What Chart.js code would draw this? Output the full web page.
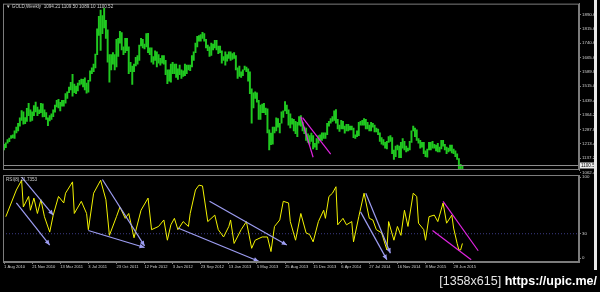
<!DOCTYPE html>
<html>
<head>
<meta charset="utf-8">
<script src="https://cdn.jsdelivr.net/npm/chart.js@4.4.1/dist/chart.umd.min.js"></script>
<style>
  body { margin: 0; background: #000; width: 600px; height: 292px; overflow: hidden; position: relative; }
  #priceChart { position: absolute; left: 0; top: 0; }
  #rsiChart { position: absolute; left: 0; top: 170px; }
  #edge { position: absolute; left: 594px; top: 0; width: 3px; height: 270px; background: #e8e8e8; }
  #mark { position: absolute; right: 3px; top: 274px; color: #fff; font: 12.5px "Liberation Sans", sans-serif; white-space: nowrap; }
  #mark span { color: #e4e4e4; }
  #mark b { font-weight: bold; }
</style>
</head>
<body>
<canvas id="priceChart" width="600" height="176"></canvas>
<canvas id="rsiChart" width="600" height="100"></canvas>
<div id="edge"></div>
<div id="mark"><span>[1358x615]</span> <b>https://upic.me/</b></div>
<script>
// weekly bars, week 0 = 1 Aug 2010
const weekLows = [
  1180,1192,1215,1223,1240,1243,1240,1270,1280,1305,1335,1315,1318,1330,1360,1330,1335,1360,1380,1360,1370,1375,
  1353,1355,1340,1308,1332,1340,1355,1378,1405,1400,1385,1410,1410,1425,1450,1480,1495,1462,1480,1475,1490,1520,
  1525,1510,1495,1478,1483,1540,1580,1590,1610,1680,1780,1702,1790,1820,1765,1640,1535,1600,1630,1600,1615,1670,
  1740,1705,1680,1690,1700,1580,1590,1523,
  1590,1620,1630,1650,1725,1715,1710,1720,1690,1680,1640,1630,1650,1615,1635,1625,1635,1630,1575,1527,1540,1535,
  1580,1580,1560,1550,1575,1555,1565,1570,1580,1600,1595,1615,1650,1690,1720,1750,1750,1765,1750,1715,1700,1670,
  1675,1705,1715,1705,1685,1690,1635,1650,1625,
  1645,1660,1650,1655,1660,1600,1555,1565,1560,1570,1600,1590,1540,1475,1320,1400,1450,1430,1340,1340,1375,1375,
  1365,1270,1180,1208,1210,1270,1280,1300,1270,1320,1350,1385,1370,1310,1295,1315,1280,1265,1250,1310,1305,1280,
  1265,1230,1220,1210,1225,1185,1195,1182,
  1215,1230,1230,1240,1240,1260,1305,1320,1330,1335,1320,1290,1277,1290,1290,1268,1280,1280,1285,1285,1245,1240,
  1250,1255,1310,1310,1310,1290,1290,1280,1280,1300,1275,1275,1260,1225,1210,1205,1190,1185,1220,1225,1160,1130,
  1145,1180,1140,1140,1190,1180,1170,1175,
  1180,1220,1280,1250,1230,1215,1190,1195,1160,1145,1142,1180,1180,1190,1190,1175,1170,1170,1185,1200,1180,1160,
  1170,1175,1165,1160,1145,1130,1077,1077,1080
];
const weekHighs = [
  1210,1218,1235,1242,1255,1260,1280,1300,1320,1348,1387,1380,1350,1398,1424,1390,1380,1413,1431,1405,1390,1424,
  1422,1390,1376,1348,1360,1370,1390,1415,1440,1445,1430,1440,1440,1475,1485,1510,1535,1577,1525,1515,1530,1545,
  1552,1550,1558,1530,1545,1595,1610,1630,1682,1815,1880,1913,1885,1923,1860,1810,1680,1680,1690,1680,1760,1765,
  1802,1795,1720,1765,1765,1720,1640,1620,
  1630,1665,1675,1730,1765,1760,1735,1790,1792,1715,1715,1670,1700,1695,1680,1660,1675,1675,1650,1600,1600,1630,
  1640,1630,1630,1605,1625,1600,1595,1630,1625,1625,1625,1675,1695,1740,1775,1780,1785,1796,1790,1760,1730,1720,
  1740,1735,1755,1755,1725,1725,1700,1670,1695,
  1680,1695,1695,1685,1690,1675,1610,1620,1590,1600,1620,1615,1605,1590,1500,1480,1485,1480,1440,1415,1420,1425,
  1400,1395,1285,1268,1300,1300,1348,1345,1320,1380,1385,1433,1415,1390,1370,1345,1340,1330,1325,1355,1360,1325,
  1300,1295,1265,1255,1268,1255,1215,1240,
  1255,1260,1270,1270,1270,1320,1330,1345,1355,1385,1392,1340,1310,1335,1330,1305,1315,1315,1305,1305,1295,1260,
  1280,1325,1330,1335,1345,1340,1325,1310,1325,1320,1310,1295,1290,1270,1245,1235,1220,1225,1250,1255,1245,1180,
  1200,1205,1200,1220,1240,1225,1200,1190,
  1225,1280,1305,1295,1285,1240,1230,1220,1220,1175,1185,1220,1220,1225,1210,1205,1215,1195,1230,1230,1210,1195,
  1190,1205,1205,1185,1175,1160,1135,1105,1100
];
const lastPrice = 1100.52;
const priceTicks = [1062.4, 1137.2, 1213.4, 1287.8, 1364.2, 1439.4, 1515.0, 1589.8, 1665.6, 1740.6, 1815.6, 1890.6];

// RSI (week index, value)
const rsiWeeks = [1,7,10,11,14,15,17,19,21,23,26,28,31,34,35,39,40,44,47,48,51,55,58,60,64,66,69,71,74,78,
  82,84,88,91,93,95,97,99,102,105,106,109,111,113,116,120,122,125,128,129,131,135,138,141,143,147,150,152,154,157,
  159,162,163,166,169,172,174,176,179,182,183,185,187,189,190,193,195,198,199,202,205,208,210,212,215,218,219,222,
  224,226,228,230,233,235,236,239,240,242,245,247,250,252,255,256,258,259,260,261];
const rsiValues = [51,84,96,63,76,59,74,55,72,51,32,53,76,68,80,94,55,70,55,35,80,96,72,28,51,63,49,55,25,59,
  74,35,39,47,22,41,49,35,45,39,55,84,90,89,45,53,35,26,39,47,18,35,45,12,22,26,26,8,39,47,
  70,68,45,22,55,31,29,20,45,59,49,76,80,88,41,49,41,45,20,51,80,49,47,35,31,10,45,22,
  39,28,59,39,80,76,43,35,22,51,53,45,68,43,53,37,18,10,10,18];
const rsiTicks = [0, 30, 100];
const rsiLevel = 30;

const dateWeeks = [0,16,32,48,64,80,96,112,128,144,160,176,192,208,224,240,256];
const dateLabels = ['1 Aug 2010','21 Nov 2010','13 Mar 2011','3 Jul 2011','23 Oct 2011','12 Feb 2012','3 Jun 2012',
  '23 Sep 2012','13 Jan 2013','5 May 2013','25 Aug 2013','15 Dec 2013','6 Apr 2014','27 Jul 2014','16 Nov 2014',
  '8 Mar 2015','28 Jun 2015'];

// hand drawn trend lines: [week0, value0, week1, value1]
const priceTrendLines = [[169, 1354, 176, 1142], [170, 1349, 186, 1158]];
const rsiArrows = [[10,100,28,53],[7,68,26,16],[48,34,80,13],[56,97,80,15],[99,37,145,-4],[117,70,161,16],[206,80,220,6],[203,57,218,-2]];
const rsiTrendLines = [[250,70,270,9],[244,34,266,-2]];

const xMin = -0.6, xMax = 327.4;
const frameColor = '#7c7c7c';
const textColor = '#cfcfcf';
const smallFont = { family: 'Liberation Sans', size: 4.4 };

const framePlugin = {
  id: 'frame',
  afterDraw(chart) {
    const {ctx, chartArea: a} = chart;
    ctx.save();
    ctx.strokeStyle = frameColor;
    ctx.lineWidth = 1;
    ctx.strokeRect(a.left + 0.5, a.top + 0.5, a.right - a.left - 1, a.bottom - a.top - 1);
    ctx.restore();
  }
};

const captionPlugin = {
  id: 'caption',
  afterDraw(chart, args, opts) {
    const {ctx, chartArea: a} = chart;
    ctx.save();
    ctx.font = '4.6px "Liberation Sans"';
    ctx.fillStyle = textColor;
    ctx.textBaseline = 'top';
    ctx.fillText(opts.text, a.left + opts.dx, a.top + opts.dy);
    ctx.restore();
  }
};

const bidPlugin = {
  id: 'bid',
  afterDatasetsDraw(chart, args, opts) {
    const {ctx, chartArea: a, scales: {y}} = chart;
    const py = Math.round(y.getPixelForValue(opts.value)) + 0.5;
    ctx.save();
    ctx.strokeStyle = '#8c8c8c';
    ctx.beginPath();
    ctx.moveTo(a.left, py);
    ctx.lineTo(a.right, py);
    ctx.stroke();
    ctx.fillStyle = '#ececec';
    ctx.fillRect(a.right + 1, py - 3, 14, 6);
    ctx.fillStyle = '#000';
    ctx.font = '4.6px "Liberation Sans"';
    ctx.textBaseline = 'middle';
    ctx.fillText(opts.value.toFixed(1), a.right + 2, py);
    ctx.restore();
  }
};

const arrowPlugin = {
  id: 'arrowHeads',
  afterDatasetsDraw(chart) {
    const {ctx, chartArea: a} = chart;
    chart.data.datasets.forEach((ds, i) => {
      if (!ds.arrowHead) return;
      const pts = chart.getDatasetMeta(i).data;
      const p0 = pts[0], p1 = pts[pts.length - 1];
      const ang = Math.atan2(p1.y - p0.y, p1.x - p0.x);
      ctx.save();
      ctx.beginPath();
      ctx.rect(a.left, a.top, a.right - a.left, a.bottom - a.top);
      ctx.clip();
      ctx.translate(p1.x, p1.y);
      ctx.rotate(ang);
      ctx.beginPath();
      ctx.moveTo(0, 0);
      ctx.lineTo(-5, -2.3);
      ctx.lineTo(-5, 2.3);
      ctx.closePath();
      ctx.fillStyle = ds.borderColor;
      ctx.fill();
      ctx.restore();
    });
  }
};

function segment(line, color, extra) {
  return Object.assign({
    type: 'line',
    data: [{x: line[0], y: line[1]}, {x: line[2], y: line[3]}],
    borderColor: color,
    borderWidth: 1.2,
    pointRadius: 0,
    order: 0
  }, extra || {});
}

new Chart(document.getElementById('priceChart'), {
  type: 'bar',
  data: {
    datasets: [
      {
        type: 'bar',
        data: weekLows.map((lo, i) => ({x: i, y: [lo, weekHighs[i]]})),
        backgroundColor: '#20c820',
        borderWidth: 0,
        barThickness: 1.3,
        grouped: false,
        order: 1
      },
      ...priceTrendLines.map(l => segment(l, '#e024e0'))
    ]
  },
  options: {
    responsive: false,
    animation: false,
    layout: { padding: { left: 3, top: 1, right: 0, bottom: 6 } },
    plugins: {
      legend: { display: false },
      tooltip: { enabled: false },
      bid: { value: lastPrice },
      caption: { text: '\u25BC GOLD,Weekly  1094.21 1109.50 1089.10 1100.52', dx: 3, dy: 1 }
    },
    scales: {
      x: { type: 'linear', display: false, min: xMin, max: xMax, offset: false },
      y: {
        position: 'right',
        min: 1075,
        max: 1947,
        afterBuildTicks: s => { s.ticks = priceTicks.map(v => ({value: v})); },
        afterFit: s => { s.width = 21; },
        ticks: { callback: v => v.toFixed(1), color: textColor, font: smallFont, padding: 1 },
        grid: { drawOnChartArea: false, tickLength: 2, color: frameColor },
        border: { color: frameColor }
      }
    }
  },
  plugins: [framePlugin, bidPlugin, captionPlugin]
});

new Chart(document.getElementById('rsiChart'), {
  type: 'line',
  data: {
    datasets: [
      {
        data: rsiWeeks.map((w, i) => ({x: w, y: rsiValues[i]})),
        borderColor: '#f4f400',
        borderWidth: 1,
        pointRadius: 0,
        tension: 0,
        order: 1
      },
      segment([xMin, rsiLevel, xMax, rsiLevel], '#3c3c86', { borderWidth: 1, borderDash: [1, 2], order: 10 }),
      ...rsiArrows.map(l => segment(l, '#9d9df2', { arrowHead: true })),
      ...rsiTrendLines.map(l => segment(l, '#e024e0'))
    ]
  },
  options: {
    responsive: false,
    animation: false,
    layout: { padding: { left: 3, top: 5, right: 0, bottom: 0 } },
    plugins: {
      legend: { display: false },
      tooltip: { enabled: false },
      caption: { text: 'RSI(8) 21.7353', dx: 3, dy: 2 }
    },
    scales: {
      x: {
        type: 'linear',
        min: xMin,
        max: xMax,
        afterBuildTicks: s => { s.ticks = dateWeeks.map(v => ({value: v})); },
        afterFit: s => { s.height = 8; },
        ticks: { callback: (v, i) => dateLabels[i], align: 'start', maxRotation: 0, autoSkip: false, color: textColor, font: { family: 'Liberation Sans', size: 4.1 }, padding: 0 },
        grid: { drawOnChartArea: false, tickLength: 2, color: frameColor },
        border: { color: frameColor }
      },
      y: {
        position: 'right',
        min: -4.9,
        max: 102.5,
        afterBuildTicks: s => { s.ticks = rsiTicks.map(v => ({value: v})); },
        afterFit: s => { s.width = 21; },
        ticks: { color: textColor, font: smallFont, padding: 1 },
        grid: { drawOnChartArea: false, tickLength: 2, color: frameColor },
        border: { color: frameColor }
      }
    }
  },
  plugins: [framePlugin, arrowPlugin, captionPlugin]
});
</script>
</body>
</html>
